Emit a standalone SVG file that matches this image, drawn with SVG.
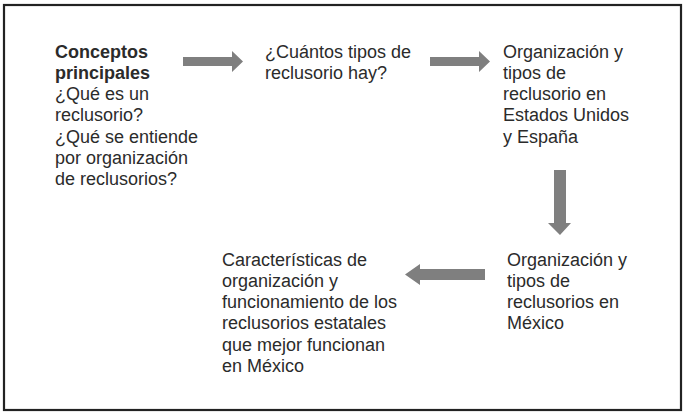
<svg xmlns="http://www.w3.org/2000/svg" width="689" height="417" viewBox="0 0 689 417">
<style>
text{font-family:"Liberation Sans",Arial,sans-serif;font-size:18px;fill:#2b2b2b}
.b{font-weight:bold}
.arr{fill:#7f7f7f}
</style>
<rect x="0" y="0" width="689" height="417" fill="#fff"/>
<rect x="4" y="5" width="677" height="405" fill="none" stroke="#222" stroke-width="2.2"/>
<g id="n1"><text x="55" y="57.5"><tspan class="b">Conceptos</tspan><tspan x="55" dy="21.3" class="b">principales</tspan><tspan x="55" dy="21.3">¿Qué es un</tspan><tspan x="55" dy="21.3">reclusorio?</tspan><tspan x="55" dy="21.3">¿Qué se entiende</tspan><tspan x="55" dy="21.3">por organización</tspan><tspan x="55" dy="21.3">de reclusorios?</tspan></text></g>
<g id="n2"><text x="265" y="57.5">¿Cuántos tipos de<tspan x="265" dy="21.3">reclusorio hay?</tspan></text></g>
<g id="n3"><text x="503" y="57.5">Organización y<tspan x="503" dy="21.3">tipos de</tspan><tspan x="503" dy="21.3">reclusorio en</tspan><tspan x="503" dy="21.3">Estados Unidos</tspan><tspan x="503" dy="21.3">y España</tspan></text></g>
<g id="n4"><text x="507" y="265.5">Organización y<tspan x="507" dy="21.3">tipos de</tspan><tspan x="507" dy="21.3">reclusorios en</tspan><tspan x="507" dy="21.3">México</tspan></text></g>
<g id="n5"><text x="222" y="265.5">Características de<tspan x="222" dy="21.3">organización y</tspan><tspan x="222" dy="21.3">funcionamiento de los</tspan><tspan x="222" dy="21.3">reclusorios estatales</tspan><tspan x="222" dy="21.3">que mejor funcionan</tspan><tspan x="222" dy="21.3">en México</tspan></text></g>
<g id="connectors">
<polygon class="arr" points="183,57 232,57 232,51 243,61.5 232,72 232,66 183,66"/>
<polygon class="arr" points="430,57 479,57 479,51 490,61.5 479,72 479,66 430,66"/>
<polygon class="arr" points="554,170 566,170 566,223 571,223 560,235 548,223 554,223"/>
<polygon class="arr" points="485,269 420,269 420,264 405,274.5 420,285 420,280 485,280"/>
</g>
</svg>
